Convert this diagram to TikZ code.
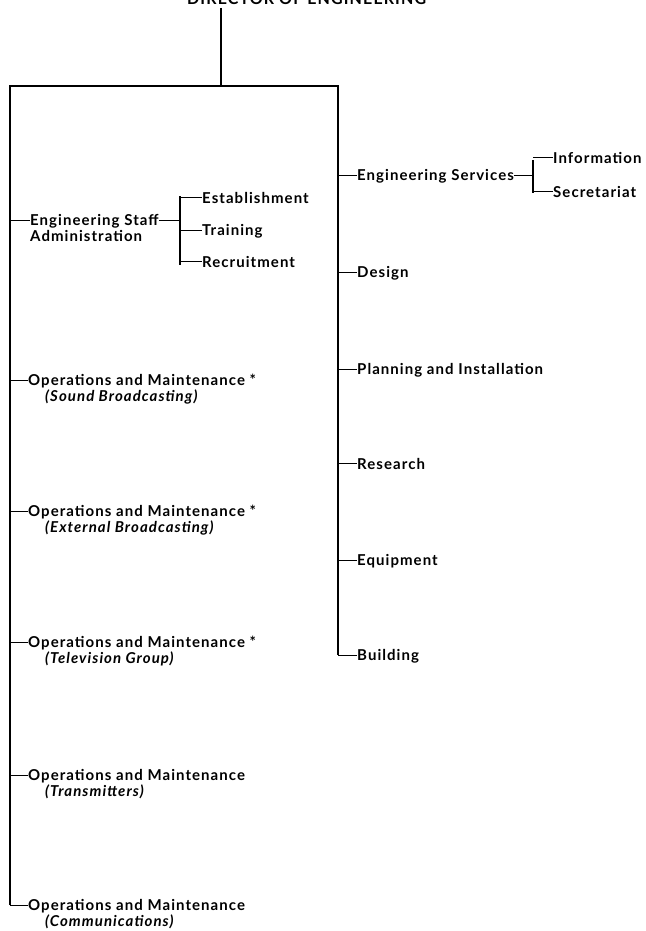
\documentclass[tikz,border=0pt]{standalone}
\usepackage{fontspec}
\setmainfont{Lato}
\newfontfamily\itemfont{Lato}[LetterSpace=7]
\begin{document}
\begin{tikzpicture}[x=1pt,y=-1pt,
  item/.style={inner sep=0pt, anchor=base west, font=\itemfont\fontsize{15}{17}\selectfont\bfseries},
  sub/.style={inner sep=0pt, anchor=base west, font=\itemfont\fontsize{15}{17}\selectfont\bfseries\itshape},
  ln/.style={line width=1.4pt, black}]
\useasboundingbox[fill=white] (0,0) rectangle (645,931);
% title (cut at top edge, as in the reference)
\node[item, font=\itemfont\fontsize{16}{17}\selectfont\bfseries] (title) at (187,5) {DIRECTOR OF ENGINEERING};
\coordinate (st) at (221,8);
\coordinate (sb) at (221,86);
\coordinate (tl) at (10,86);
\coordinate (tr) at (338,86);
\coordinate (lb) at (10,905);
\coordinate (rb) at (338,655);
\draw[ln] (st) -- (sb);
\draw[ln] (lb) -- (tl) -- (tr) -- (rb);

% left column
\node[item] (esa) at (30,225) {Engineering Staff};
\node[item] (esa2) at (30,241) {Administration};
\node[item] (est) at (202,203) {Establishment};
\node[item] (trn) at (202,235) {Training};
\node[item] (rec) at (202,267) {Recruitment};
\coordinate (bt) at (180,196);
\coordinate (bb) at (180,265);
\draw[ln] (tl |- esa) -- (esa.west);
\draw[ln] (esa.east) -- (bt |- esa);
\draw[ln] (bt) -- (bb);
\draw[ln] (bt |- est) -- (est.west);
\draw[ln] (bt |- trn) -- (trn.west);
\draw[ln] (bt |- rec) -- (rec.west);

\node[item] (osb) at (28,385) {Operations and Maintenance *};
\node[sub] (osb2) at (45,401) {(Sound Broadcasting)};
\node[item] (oeb) at (28,516) {Operations and Maintenance *};
\node[sub] (oeb2) at (45,532) {(External Broadcasting)};
\node[item] (otv) at (28,647) {Operations and Maintenance *};
\node[sub] (otv2) at (45,663) {(Television Group)};
\node[item] (otr) at (28,780) {Operations and Maintenance};
\node[sub] (otr2) at (45,796) {(Transmitters)};
\node[item] (oco) at (28,910) {Operations and Maintenance};
\node[sub] (oco2) at (45,926) {(Communications)};
\foreach \n in {osb,oeb,otv,otr,oco} \draw[ln] (tl |- \n) -- (\n.west);

% right column
\node[item] (es) at (357,180) {Engineering Services};
\node[item] (inf) at (553,163) {Information};
\node[item] (sec) at (553,197) {Secretariat};
\coordinate (ct) at (533,160);
\coordinate (cb) at (533,193);
\draw[ln] (es.east) -- (ct |- es);
\draw[ln] (ct) -- (cb);
\draw[ln] (ct |- inf) -- (inf.west);
\draw[ln] (ct |- sec) -- (sec.west);

\node[item] (des) at (357,277) {Design};
\node[item] (pla) at (357,374) {Planning and Installation};
\node[item] (res) at (357,469) {Research};
\node[item] (equ) at (357,565) {Equipment};
\node[item] (bui) at (357,660) {Building};
\foreach \n in {es,des,pla,res,equ,bui} \draw[ln] (tr |- \n) -- (\n.west);
\end{tikzpicture}
\end{document}
